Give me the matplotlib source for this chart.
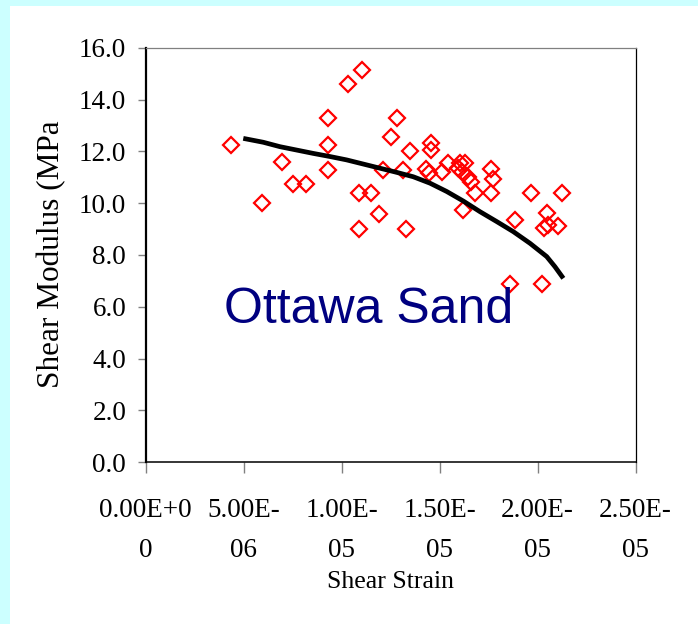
import matplotlib
matplotlib.use("Agg")
import matplotlib.pyplot as plt
import numpy as np

plt.rcParams['font.family'] = ['Liberation Serif', 'DejaVu Serif']

# measured points (strain in units of 1e-6, modulus in MPa)
strain = [4.34, 5.92, 6.94, 7.50, 8.18, 9.32, 9.32, 9.32, 10.34, 11.02,
          10.90, 10.90, 11.49, 11.92, 12.12, 12.50, 12.84, 13.11, 13.28, 13.48,
          14.54, 14.54, 14.30, 14.47, 15.10, 15.44, 16.04, 16.29, 16.12, 16.46,
          16.58, 16.80, 16.20, 17.60, 17.73, 17.60, 18.84, 19.66, 21.22, 20.46,
          20.34, 20.54, 21.05, 18.59, 20.20, 15.95]
modulus = [12.25, 10.00, 11.60, 10.73, 10.73, 13.30, 12.25, 11.28, 14.59, 15.14,
           10.41, 9.00, 10.41, 9.57, 11.28, 12.54, 13.30, 11.28, 9.00, 12.03,
           12.31, 12.05, 11.31, 11.18, 11.22, 11.54, 11.54, 11.54, 11.22, 11.02,
           10.83, 10.41, 9.74, 11.31, 10.92, 10.41, 9.35, 10.41, 10.41, 9.61,
           9.03, 9.16, 9.12, 6.88, 6.88, 11.35]

# trend curve
fit_strain = [4.98, 6.00, 6.85, 7.70, 8.55, 9.40, 10.25, 11.10, 11.95, 12.80, 13.65,
              14.51, 15.36, 16.21, 17.06, 17.91, 18.76, 19.61, 20.46, 20.88, 21.31]
fit_modulus = [12.50, 12.35, 12.18, 12.05, 11.92, 11.80, 11.67, 11.51, 11.35, 11.19, 11.02,
               10.77, 10.45, 10.08, 9.67, 9.29, 8.90, 8.45, 7.94, 7.55, 7.10]

xticks = [0, 5e-6, 1e-5, 1.5e-5, 2e-5, 2.5e-5]
xticklabels = ["0.00E+0\n0", "5.00E-\n06", "1.00E-\n05", "1.50E-\n05", "2.00E-\n05", "2.50E-\n05"]
yticks = [0, 2, 4, 6, 8, 10, 12, 14, 16]

fig = plt.figure(figsize=(6.98, 6.24), dpi=100, facecolor='#ccffff')
fig.patches.append(plt.Rectangle((10/698, 0), 1, 1 - 5.7/624, transform=fig.transFigure,
                                 facecolor='white', edgecolor='none', zorder=-10))
ax = fig.add_axes([0.2087, 0.2591, 0.7020, 0.6645])
ax.set_facecolor('none')

x = np.array(strain) * 1e-6
ax.plot(x, modulus, linestyle='none', marker='D', ms=7.8, mfc='none', mec='red', mew=1.6)
ax.plot(np.array(fit_strain) * 1e-6, fit_modulus, color='black', lw=3.4,
        solid_capstyle='butt', solid_joinstyle='round')

ax.text(0.456, 0.335, "Ottawa Sand", transform=ax.transAxes, ha='center', va='baseline',
        fontsize=36, color='#000080', family=['Liberation Sans', 'DejaVu Sans'])

ax.set_xlim(0, 2.5e-5)
ax.set_ylim(0, 16)
ax.set_xticks(xticks)
ax.set_xticklabels(xticklabels, linespacing=1.78)
ax.set_yticks(yticks)
ax.set_yticklabels(["%.1f" % v for v in yticks])
ax.tick_params(axis='x', direction='out', length=8, width=1, color='#808080', labelsize=19.5, pad=18)
ax.tick_params(axis='y', direction='out', length=6, width=1, color='#808080', labelsize=19.5, pad=8)

ax.spines['left'].set_linewidth(1.6)
ax.spines['bottom'].set_linewidth(1.1)
ax.spines['right'].set_linewidth(0.9)
ax.spines['top'].set_linewidth(0.9)
ax.spines['top'].set_color('#808080')

ax.set_ylabel("Shear Modulus (MPa", fontsize=22.5, va='center')
ax.yaxis.set_label_coords(-0.192, 0.502)
ax.set_xlabel("Shear Strain", fontsize=18.5, va='center')
ax.xaxis.set_label_coords(0.5, -0.289)

fig.savefig("out.png", dpi=100, facecolor=fig.get_facecolor())
